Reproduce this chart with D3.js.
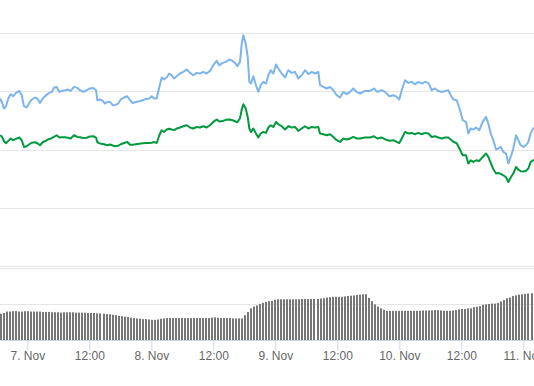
<!DOCTYPE html>
<html><head><meta charset="utf-8">
<script src="https://cdn.jsdelivr.net/npm/d3@7/dist/d3.min.js"></script>
<style>body{margin:0;background:#fff}svg{display:block}</style>
</head><body>
<svg id="chart" width="534" height="386"></svg>
<script>
// Hours relative to 7 Nov 2017 00:00 UTC for each price sample
const hours = [-5.28,-4.95,-4.51,-4.12,-3.68,-3.21,-2.71,-2.19,-1.55,-1.08,-0.64,-0.12,0.39,0.85,1.49,1.94,2.46,2.98,3.62,4.26,4.72,5.23,5.69,6.19,6.66,7.30,7.82,8.40,9.04,9.68,10.20,10.84,11.50,12.14,12.77,13.30,13.55,14.07,14.59,15.04,15.48,16.01,16.53,16.97,17.61,18.08,18.72,19.35,19.88,20.40,21.04,21.68,22.34,22.97,23.61,24.08,24.52,25.05,25.55,26.01,26.46,26.98,27.48,27.95,28.39,28.92,29.55,
30.19,30.85,31.49,32.13,32.79,33.43,34.06,34.72,35.36,36.00,36.66,37.16,37.82,38.46,39.10,39.75,40.20,40.65,41.17,41.50,41.81,42.27,42.66,42.97,43.30,43.74,44.26,44.71,45.17,45.68,46.20,46.65,47.11,47.61,48.14,48.58,49.24,49.88,50.52,51.17,51.81,52.45,53.11,53.75,54.39,55.05,55.68,56.32,56.65,57.29,57.95,58.59,59.23,59.88,60.52,61.16,61.82,62.46,63.10,63.76,64.39,
65.36,66.33,67.10,67.74,68.59,69.23,70.06,70.84,71.50,72.00,72.46,73.10,73.74,74.40,75.04,75.68,76.34,76.97,77.61,78.27,78.91,79.55,80.21,80.85,81.48,81.95,82.45,83.11,83.75,84.27,84.91,85.36,85.82,86.32,86.85,87.48,88.14,88.78,89.23,89.69,90.19,90.72,91.16,91.63,92.13,92.65,93.10,93.56,94.06,94.59,95.03,95.50,96.00,96.52,96.97,97.43,97.94,98.46];

const seriesBlue = [2.884,2.825,2.712,2.752,2.884,2.958,2.923,2.980,3.014,2.941,2.752,2.729,2.808,2.867,2.901,2.884,2.808,2.884,2.941,2.980,2.997,3.073,3.083,2.997,3.014,3.026,3.038,3.014,3.083,3.066,3.026,2.997,3.026,3.056,3.066,3.026,2.855,2.867,2.843,2.798,2.825,2.825,2.769,2.769,2.798,2.867,2.901,2.923,2.855,2.808,2.825,2.837,2.855,2.877,2.884,2.923,2.884,2.884,3.083,3.245,3.210,3.245,3.313,3.284,3.227,3.267,3.313,
3.341,3.382,3.324,3.284,3.324,3.313,3.341,3.313,3.358,3.456,3.530,3.456,3.495,3.513,3.554,3.530,3.495,3.439,3.513,3.829,3.971,3.829,3.598,3.169,3.141,3.267,3.112,2.997,3.112,3.169,3.141,3.284,3.370,3.313,3.468,3.399,3.313,3.245,3.370,3.324,3.341,3.227,3.284,3.370,3.301,3.341,3.313,3.341,3.112,3.083,3.056,3.083,3.026,2.941,2.901,2.997,2.958,2.997,3.056,2.997,2.970,
3.014,3.014,3.056,2.997,3.026,2.997,2.923,2.941,2.911,2.867,3.026,3.198,3.152,3.169,3.129,3.169,3.141,3.169,3.152,3.026,3.056,3.014,2.997,3.014,3.026,2.941,2.867,2.855,2.683,2.511,2.482,2.283,2.369,2.351,2.386,2.339,2.482,2.568,2.454,2.283,2.168,2.008,2.025,2.053,1.967,1.939,1.767,1.881,2.025,2.253,2.168,2.082,2.053,2.082,2.138,2.293,2.369,2.40];

const seriesGreen = [2.253,2.236,2.150,2.116,2.156,2.197,2.168,2.190,2.214,2.168,2.053,2.065,2.099,2.125,2.133,2.116,2.082,2.133,2.159,2.190,2.202,2.228,2.253,2.214,2.219,2.219,2.211,2.197,2.253,2.224,2.219,2.205,2.211,2.233,2.236,2.214,2.133,2.113,2.104,2.094,2.082,2.095,2.078,2.065,2.073,2.099,2.121,2.138,2.090,2.090,2.099,2.106,2.116,2.121,2.121,2.125,2.138,2.121,2.253,2.339,2.310,2.351,2.365,2.351,2.343,2.369,2.386,
2.408,2.425,2.386,2.369,2.396,2.386,2.408,2.386,2.425,2.482,2.523,2.489,2.497,2.518,2.523,2.511,2.494,2.477,2.546,2.695,2.786,2.712,2.568,2.369,2.310,2.369,2.283,2.214,2.283,2.310,2.293,2.386,2.425,2.396,2.482,2.442,2.408,2.351,2.408,2.386,2.396,2.327,2.369,2.408,2.369,2.396,2.386,2.396,2.283,2.271,2.253,2.271,2.224,2.168,2.138,2.197,2.180,2.197,2.224,2.197,2.197,
2.214,2.214,2.236,2.197,2.214,2.185,2.159,2.168,2.138,2.121,2.197,2.310,2.283,2.293,2.271,2.293,2.271,2.293,2.283,2.224,2.236,2.214,2.197,2.214,2.214,2.181,2.142,2.116,2.004,1.910,1.910,1.767,1.824,1.795,1.824,1.812,1.881,1.939,1.881,1.781,1.670,1.596,1.606,1.591,1.566,1.532,1.451,1.527,1.596,1.709,1.664,1.635,1.630,1.644,1.682,1.795,1.824,1.841];

const volumeStart = "2017-11-06T18:55:00Z";
const volumeStepMinutes = 35;
const volume = [0.73,0.75,0.79,0.79,0.80,0.80,0.79,0.79,0.80,0.80,0.79,0.79,0.79,0.79,0.78,0.78,0.78,0.77,0.77,0.77,
0.76,0.77,0.77,0.77,0.77,0.76,0.76,0.76,0.76,0.75,0.75,0.75,0.74,0.74,0.73,0.72,0.71,0.70,0.69,0.67,
0.66,0.65,0.64,0.62,0.61,0.60,0.59,0.58,0.58,0.57,0.56,0.56,0.57,0.59,0.60,0.61,0.61,0.61,0.61,0.61,
0.61,0.61,0.61,0.61,0.61,0.61,0.61,0.61,0.61,0.61,0.62,0.63,0.62,0.61,0.61,0.61,0.61,0.60,0.60,0.60,
0.60,0.69,0.78,0.88,0.93,0.96,1.00,1.03,1.06,1.08,1.09,1.12,1.13,1.13,1.13,1.13,1.13,1.13,1.13,1.13,
1.14,1.14,1.14,1.14,1.14,1.14,1.15,1.16,1.18,1.19,1.20,1.20,1.20,1.20,1.21,1.22,1.23,1.24,1.25,1.26,
1.27,1.27,1.17,1.08,0.99,0.93,0.88,0.84,0.81,0.81,0.81,0.81,0.81,0.81,0.81,0.81,0.81,0.81,0.81,0.81,
0.82,0.82,0.82,0.82,0.83,0.83,0.82,0.81,0.81,0.81,0.82,0.83,0.85,0.86,0.86,0.88,0.88,0.91,0.92,0.94,
0.98,0.99,1.00,1.01,1.01,1.03,1.07,1.11,1.16,1.18,1.22,1.24,1.26,1.27,1.28,1.29,1.30,1.31];

const priceTicks = [0, 1, 2, 3, 4];
const volumeTicks = [1, 2];
const timeDomain = ["2017-11-06T18:43:00Z", "2017-11-11T02:04:00Z"];

const W = 534, H = 386;
const svg = d3.select("#chart");
const base = Date.parse("2017-11-07T00:00:00Z");
const toDate = h => new Date(base + h * 3600e3);

const x = d3.scaleUtc().domain(timeDomain.map(s => new Date(s))).range([0, W]);
const y = d3.scaleLinear().domain([0, 4]).range([266.5, 33.5]);
const yv = d3.scaleLinear().domain([0, 2]).range([340, 268]);

const crisp = v => Math.floor(v) + 0.5;

// gridlines
svg.append("g").selectAll("line").data(priceTicks).join("line")
  .attr("x1", 0).attr("x2", W)
  .attr("y1", d => crisp(y(d))).attr("y2", d => crisp(y(d)))
  .attr("stroke", "#e6e6e6").attr("stroke-width", 1);
svg.append("g").selectAll("line").data(volumeTicks).join("line")
  .attr("x1", 0).attr("x2", W)
  .attr("y1", d => crisp(yv(d))).attr("y2", d => crisp(yv(d)))
  .attr("stroke", "#e6e6e6").attr("stroke-width", 1);

// volume bars
const vStart = Date.parse(volumeStart);
svg.append("g").selectAll("rect").data(volume).join("rect")
  .attr("x", (d, i) => Math.round(x(new Date(vStart + i * volumeStepMinutes * 60e3)) - 1))
  .attr("width", 2)
  .attr("y", d => yv(d))
  .attr("height", d => yv(0) - yv(d))
  .attr("fill", "#767676");

// x axis
const ticks = d3.utcHour.every(12).range(new Date(timeDomain[0]), new Date(timeDomain[1]));
const fmt = d => d.getUTCHours() === 0 ? d3.utcFormat("%-d. %b")(d) : d3.utcFormat("%H:%M")(d);
const ax = svg.append("g").attr("transform", "translate(0,340)")
  .call(d3.axisBottom(x).tickValues(ticks).tickFormat(fmt).tickSize(10).tickSizeOuter(0).tickPadding(1));
ax.select(".domain").attr("stroke", "#ccd6eb");
ax.selectAll(".tick line").attr("stroke", "#ccd6eb");
ax.selectAll(".tick text").attr("fill", "#666666")
  .style("font-family", "'Liberation Sans', Arial, sans-serif").style("font-size", "12px");

// lines
const lineB = d3.line().x((d, i) => x(toDate(hours[i]))).y(d => y(d));
svg.append("path").datum(seriesGreen).attr("d", lineB)
  .attr("fill", "none").attr("stroke", "#009a3e").attr("stroke-width", 2).attr("stroke-linejoin", "round");
svg.append("path").datum(seriesBlue).attr("d", lineB)
  .attr("fill", "none").attr("stroke", "#7cb5ec").attr("stroke-width", 2).attr("stroke-linejoin", "round");
</script>
</body></html>
